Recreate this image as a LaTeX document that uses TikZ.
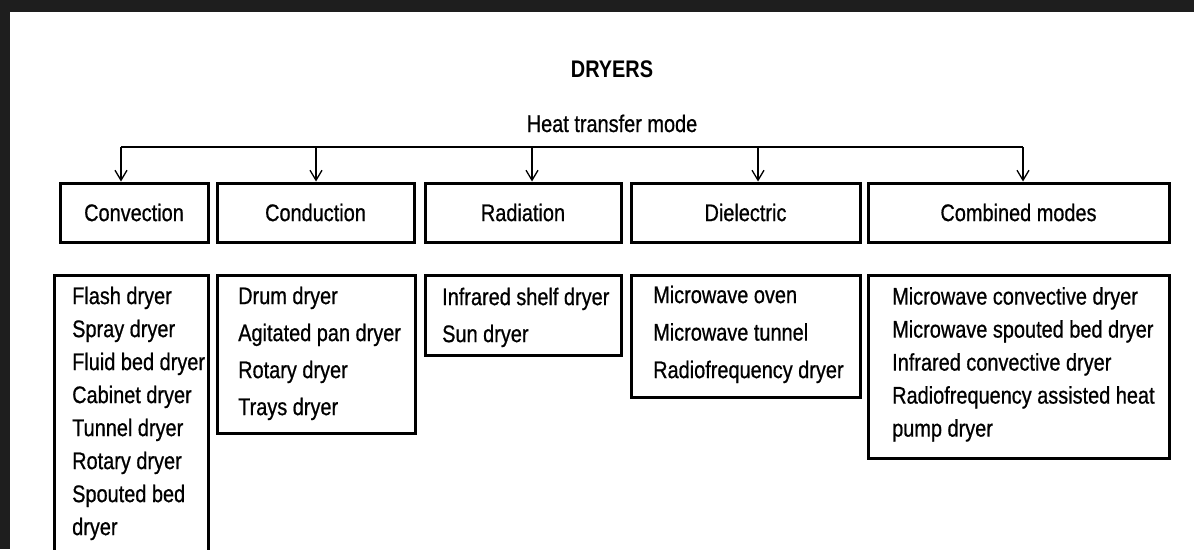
\documentclass[tikz,border=0pt]{standalone}
\usepackage{fontspec}
\newfontfamily\dfont[FakeStretch=0.83,FakeBold=0.7]{Liberation Sans}
\newfontfamily\dbfont[FakeStretch=0.83]{Liberation Sans Bold}
\usetikzlibrary{arrows.meta}
\definecolor{framecol}{HTML}{1E1E1E}
\begin{document}
\begin{tikzpicture}[x=1pt,y=-1pt,
  hbox/.style={draw,line width=3pt,minimum height=59pt,inner sep=0pt,
    font=\dfont\fontsize{24}{28}\selectfont},
  lbox/.style={draw,line width=3pt,inner sep=0pt},
  ltext/.style={anchor=north west,align=left,inner sep=0pt},
  arr/.style={line width=1.3pt,-{Straight Barb[length=10pt,width=12pt]}},
  bus/.style={line width=2.4pt}]
\useasboundingbox (0,0) rectangle (1194,549);
\clip (0,0) rectangle (1194,549);
\fill[white] (0,0) rectangle (1194,549);
\fill[framecol] (0,0) rectangle (1194,12);
\fill[framecol] (0,0) rectangle (10,549);

% titles
\node[font=\dbfont\fontsize{24}{28}\selectfont,anchor=base,inner sep=0pt] (title) at (612,77) {DRYERS};
\node[font=\dfont\fontsize{24}{28}\selectfont,anchor=base,inner sep=0pt] (mode) at (612,132) {Heat transfer mode};

% header boxes
\node[hbox,minimum width=148pt] (conv) at (134,212.5) {Convection};
\node[hbox,minimum width=197pt] (cond) at (315.5,212.5) {Conduction};
\node[hbox,minimum width=196pt] (rad) at (523,212.5) {Radiation};
\node[hbox,minimum width=229pt] (diel) at (745.5,212.5) {Dielectric};
\node[hbox,minimum width=301pt] (comb) at (1018.5,212.5) {Combined modes};

% bus and arrows
\coordinate (b1) at (121,147);
\coordinate (b2) at (316,147);
\coordinate (b3) at (532,147);
\coordinate (b4) at (758,147);
\coordinate (b5) at (1023,147);
\draw[bus] (b1) -- (b5);
\draw[arr] (b1) -- (b1 |- conv.north);
\draw[arr] (b2) -- (b2 |- cond.north);
\draw[arr] (b3) -- (b3 |- rad.north);
\draw[arr] (b4) -- (b4 |- diel.north);
\draw[arr] (b5) -- (b5 |- comb.north);

% list boxes
\node[lbox,minimum width=154pt,minimum height=295pt] (convL) at (131,422.5) {};
\node[lbox,minimum width=198pt,minimum height=158pt] (condL) at (316,354) {};
\node[lbox,minimum width=196pt,minimum height=80pt] (radL) at (523,315) {};
\node[lbox,minimum width=229pt,minimum height=122pt] (dielL) at (745.5,336) {};
\node[lbox,minimum width=301pt,minimum height=183pt] (combL) at (1018.5,366.5) {};

% list texts
\node[ltext,font=\dfont\fontsize{24}{33}\selectfont] (convT) at (72,286.5)
  {Flash dryer\\Spray dryer\\Fluid bed dryer\\Cabinet dryer\\Tunnel dryer\\Rotary dryer\\Spouted bed\\dryer};
\node[ltext,font=\dfont\fontsize{24}{37}\selectfont] (condT) at (238,286.5)
  {Drum dryer\\Agitated pan dryer\\Rotary dryer\\Trays dryer};
\node[ltext,font=\dfont\fontsize{24}{37}\selectfont] (radT) at (442,287.5)
  {Infrared shelf dryer\\Sun dryer};
\node[ltext,font=\dfont\fontsize{24}{37.5}\selectfont] (dielT) at (653,285.5)
  {Microwave oven\\Microwave tunnel\\Radiofrequency dryer};
\node[ltext,font=\dfont\fontsize{24}{33}\selectfont] (combT) at (892,287)
  {Microwave convective dryer\\Microwave spouted bed dryer\\Infrared convective dryer\\Radiofrequency assisted heat\\pump dryer};
\end{tikzpicture}
\end{document}
